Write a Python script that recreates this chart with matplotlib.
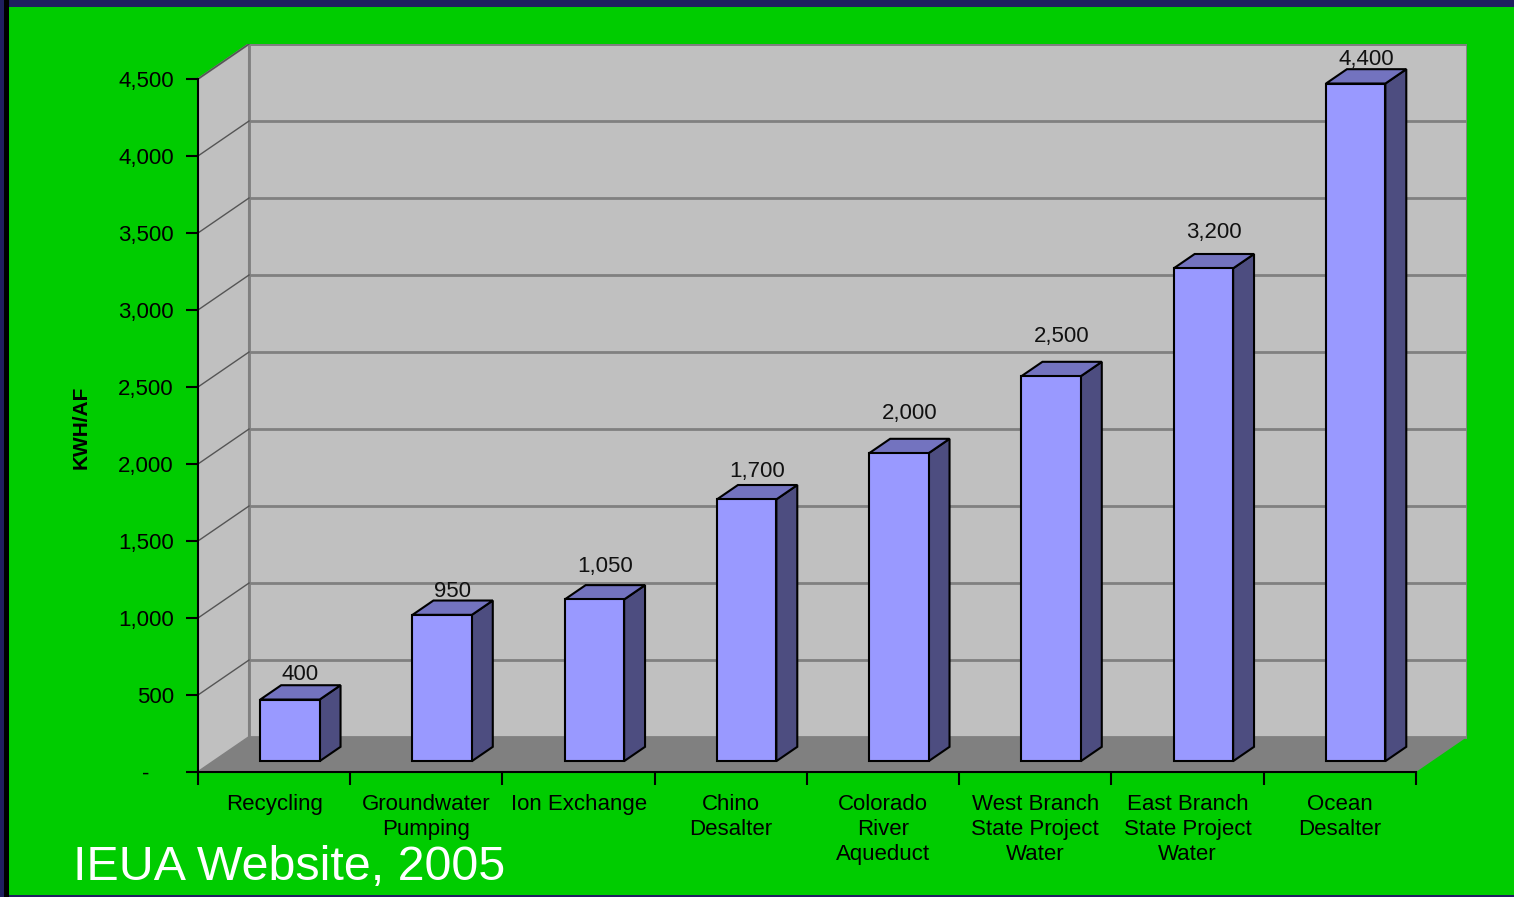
import matplotlib
matplotlib.use('Agg')
import matplotlib.pyplot as plt
from matplotlib.patches import Polygon, Rectangle

plt.rcParams['font.family'] = ['Liberation Sans', 'DejaVu Sans']

categories = ['Recycling', 'Groundwater\nPumping', 'Ion Exchange', 'Chino\nDesalter',
              'Colorado\nRiver\nAqueduct', 'West Branch\nState Project\nWater',
              'East Branch\nState Project\nWater', 'Ocean\nDesalter']
values = [400, 950, 1050, 1700, 2000, 2500, 3200, 4400]
yticks = [0, 500, 1000, 1500, 2000, 2500, 3000, 3500, 4000, 4500]
ytick_labels = ['-    '] + [f'{v:,}' for v in yticks[1:]]

ymax = 4500
DX, DY = 0.335, 227          # 3d depth offset in data units
d0, d1 = 0.31, 0.72          # bar depth range (fraction of full depth)
bw = 0.39                    # bar width
label_pad = [3.6, 2.8, 9.3, 5.7, 14.4, 14.4, 11.5, 2.8]   # value label offset, points

fig = plt.figure(figsize=(15.14, 8.97), dpi=100)
fig.patch.set_facecolor('#1F1F5F')
fig.patches.append(Rectangle((4 / 1514, 0), 5 / 1514, 1, transform=fig.transFigure,
                             facecolor='black', edgecolor='none', zorder=-2))
fig.patches.append(Rectangle((9 / 1514, 2 / 897), 1, 888 / 897, transform=fig.transFigure,
                             facecolor='#00CC00', edgecolor='none', zorder=-1))

ax = fig.add_axes([198 / 1514, 125 / 897, 1269 / 1514, 728 / 897])
ax.set_facecolor('none')
n = len(categories)
ax.set_xlim(0, n + DX)
ax.set_ylim(0, ymax + DY)

# walls and floor
ax.add_patch(Rectangle((DX, DY), n, ymax, facecolor='#C0C0C0', edgecolor='#808080', lw=2, zorder=0))
ax.add_patch(Polygon([(0, 0), (DX, DY), (DX, ymax + DY), (0, ymax)], closed=True,
                     facecolor='#C0C0C0', edgecolor='#808080', lw=1.5, zorder=0))
ax.add_patch(Polygon([(0, 0), (n, 0), (n + DX, DY), (DX, DY)], closed=True,
                     facecolor='#808080', edgecolor='none', zorder=1))

for v in yticks[1:]:
    ax.plot([DX, n + DX], [v + DY, v + DY], color='#808080', lw=2, zorder=0.5)
    ax.plot([0, DX], [v, v + DY], color='#555555', lw=1, zorder=0.5)

# bars
for i, v in enumerate(values):
    x0 = i + 0.5 - bw / 2
    x1 = i + 0.5 + bw / 2
    fx, fy = d0 * DX, d0 * DY
    bx, by = d1 * DX, d1 * DY
    front = Rectangle((x0 + fx, fy), bw, v, facecolor='#9999FF', edgecolor='black', lw=1.5, zorder=3)
    top = Polygon([(x0 + fx, v + fy), (x1 + fx, v + fy), (x1 + bx, v + by), (x0 + bx, v + by)],
                  closed=True, facecolor='#7373BF', edgecolor='black', lw=1.5, zorder=2)
    side = Polygon([(x1 + fx, fy), (x1 + bx, by), (x1 + bx, v + by), (x1 + fx, v + fy)],
                   closed=True, facecolor='#4D4D80', edgecolor='black', lw=1.5, zorder=2)
    for p in (side, top, front):
        ax.add_patch(p)
    ax.annotate(f'{v:,}', (i + 0.5 + (d0 + d1) / 2 * DX, v + by), xytext=(0, label_pad[i]),
                textcoords='offset points', ha='center', va='baseline', fontsize=16,
                color='#111111', zorder=4)

# axes
for s in ['top', 'right']:
    ax.spines[s].set_visible(False)
ax.spines['left'].set_bounds(0, ymax)
ax.spines['bottom'].set_bounds(0, n)
ax.spines['left'].set_linewidth(1.5)
ax.spines['bottom'].set_linewidth(1.5)
ax.spines['left'].set_zorder(5)
ax.spines['bottom'].set_zorder(5)

ax.set_yticks(yticks)
ax.set_yticklabels(ytick_labels, fontsize=16)
ax.tick_params(axis='y', length=9, width=1.5, pad=8.5)

ax.set_xticks(range(n + 1))
ax.set_xticklabels([])
ax.set_xticks([i + 0.5 for i in range(n)], minor=True)
ax.set_xticklabels(categories, minor=True, fontsize=16, linespacing=1.28)
ax.tick_params(axis='x', which='major', length=9, width=1.5)
ax.tick_params(axis='x', which='minor', length=0, pad=15.5)

ax.set_ylabel('KWH/AF', fontsize=15, fontweight='bold')
ax.yaxis.set_label_coords(-0.0845, 0.474)

fig.text(73 / 1514, 17 / 897, 'IEUA Website, 2005', color='white', fontsize=34.8, va='baseline')

fig.savefig('out.png', dpi=100, facecolor=fig.get_facecolor())
